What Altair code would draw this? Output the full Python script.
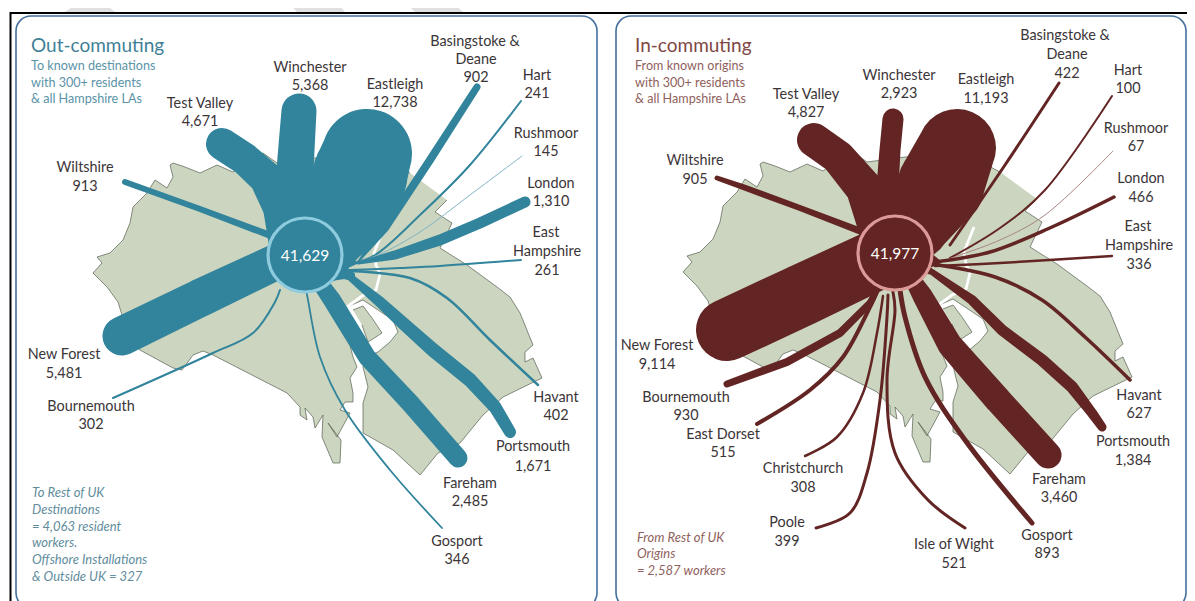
import altair as alt
import pandas as pd

# --- shared map outline (read in left-panel page coordinates)
LAND = [(410,173),(395,165),(365,158),(330,157),(315,158),(300,160),(277,163),(263,153),(250,161),(233,172),(217,165),(200,173),(185,167),(173,163),(170,165),(173,177),(167,188),(155,180),(147,193),(133,207),(130,223),(123,240),(110,253),(97,257),(102,263),(93,273),(107,287),(118,302),(125,325),(140,350),(173,368),(182,370),(193,355),(203,351),(213,355),(287,393),(300,407),(300,415),(307,420),(305,408),(313,417),(315,428),(323,415),(322,437),(333,463),(340,463),(341,440),(328,423),(337,437),(350,413),(340,410),(345,402),(353,402),(353,393),(350,378),(357,367),(353,357),(346,330),(347,307),(363,300),(393,320),(398,332),(390,342),(378,352),(365,358),(363,367),(368,387),(363,403),(363,433),(393,450),(420,475),(438,453),(460,443),(483,415),(503,397),(542,378),(533,358),(525,362),(525,352),(533,345),(520,313),(510,297),(497,287),(467,265),(440,248),(452,223),(435,212),(447,200)]
ISLAND = [(353,310),(363,306),(372,318),(382,333),(368,342),(362,325)]
RIVER = [(384,228),(374,253),(376,265),(380,274),(376,290),(362,296),(347,307)]
SHIFT = 590

# --- flows: (x, y, width)
O_HUB = [(305,258,62),(357,263,2)]
O_HUB2 = [(305,262,50),(352,275,6)]
O_WILTSHIRE = [(125,182,6),(200,209,6),(272,236,7)]
O_TESTVALLEY = [(222,144,32),(245,159,32),(266,178,34),(285,205,46),(300,240,65)]
O_WINCHESTER = [(299,111,35),(297,140,36),(295,170,37),(298,200,40),(300,250,60)]
O_EASTLEIGH = [(367,154,90),(360,175,95),(335,225,80),(318,250,70)]
O_BASINGSTOKE = [(477,87,7),(430,160,8),(385,228,8),(358,262,2)]
O_LONDON = [(525,202,11),(480,223,11),(440,240,11),(395,255,9),(358,263,3)]
O_NEWFOREST = [(122,336,39),(200,298,38),(276,262,36)]
O_PORTSMOUTH = [(510,432,12),(495,407,13),(470,380,14),(433,350,14),(405,325,13),(380,302,11),(350,277,7),(322,265,16)]
O_FAREHAM = [(458,458,19),(410,403,19),(367,357,18),(332,300,18),(318,280,16)]
O_THIN = {
    "Hart": [(521,101),(470,165),(420,215),(375,255),(352,263)],
    "Rushmoor": [(522,156),(470,195),(420,232),(378,255),(352,263)],
    "East Hampshire": [(521,260),(440,266),(400,268),(350,270)],
    "Havant": [(538,385),(490,340),(447,298),(410,278),(350,271)],
    "Gosport": [(442,528),(390,470),(345,410),(320,357),(308,300),(306,290)],
    "Bournemouth": [(113,398),(213,353),(253,333),(275,302),(280,290)],
}
O_THIN_W = {"Hart":2,"Rushmoor":1,"East Hampshire":2,"Havant":2.5,"Gosport":1.8,"Bournemouth":2}

I_HUB = [(895,256,60),(940,262,3)]
I_WILTSHIRE = [(717,178,5),(743,187,6),(800,208,6),(860,231,7)]
I_TESTVALLEY = [(814,140,34),(838,157,34),(864,188,37),(885,230,52)]
I_WINCHESTER = [(893,119,21),(890,150,21),(888,180,22),(890,215,36),(893,250,50)]
I_EASTLEIGH = [(957,148,78),(941,185,87),(915,225,70),(900,250,56)]
I_NEWFOREST = [(727,330,62),(800,296,62),(872,262,60)]
I_PORTSMOUTH = [(1102,427,9),(1092,413,10),(1072,387,12),(1042,360,12),(1002,330,11),(972,300,10),(932,272,6),(910,262,14)]
I_FAREHAM = [(1048,455,27),(998,400,27),(950,345,25),(922,295,20),(908,272,14)]
I_BOURNEMOUTH = [(727,384,7),(787,362,8),(840,333,8),(870,303,7),(878,288,5)]
I_THIN = {
    "Basingstoke": [(1059,83),(1005,165),(950,245)],
    "Hart": [(1112,96),(1045,190),(1000,228),(950,258)],
    "Rushmoor": [(1113,151),(1045,215),(1000,240),(945,260)],
    "London": [(1114,197),(1052,227),(990,252),(935,262)],
    "East Hampshire": [(1112,256),(1000,263),(935,266)],
    "Havant": [(1130,380),(1085,337),(1042,300),(995,277),(938,265)],
    "Gosport": [(1032,523),(965,440),(925,377),(905,317),(900,290)],
    "Isle of Wight": [(965,528),(928,500),(895,453),(887,380),(895,310),(893,292)],
    "Poole": [(816,528),(850,513),(867,473),(880,400),(887,317),(888,295)],
    "Christchurch": [(805,456),(837,437),(863,393),(877,333),(883,296)],
    "East Dorset": [(757,424),(810,390),(843,357),(870,307),(878,290)],
}
I_THIN_W = {"Basingstoke":3,"Hart":2,"Rushmoor":1,"London":3.5,"East Hampshire":2.5,"Havant":3.5,"Gosport":5,"Isle of Wight":3,"Poole":3,"Christchurch":2.5,"East Dorset":4}

# --- labels: (x, y, text)
O_LABELS = [(200,103,"Test Valley"),(200,121,"4,671"),(310,67,"Winchester"),(310,85,"5,368"),(395,84,"Eastleigh"),(395,102,"12,738"),
 (475,41,"Basingstoke &"),(476,59,"Deane"),(476,77,"902"),(537,75,"Hart"),(537,93,"241"),(546,133,"Rushmoor"),(546,151,"145"),
 (551,183,"London"),(551,201,"1,310"),(546,232,"East"),(547,251,"Hampshire"),(547,270,"261"),(85,167,"Wiltshire"),(85,186,"913"),
 (64,354,"New Forest"),(64,373,"5,481"),(91,406,"Bournemouth"),(91,424,"302"),(556,397,"Havant"),(556,415,"402"),
 (533,446,"Portsmouth"),(533,466,"1,671"),(470,483,"Fareham"),(470,501,"2,485"),(457,541,"Gosport"),(457,559,"346")]
I_LABELS = [(806,94,"Test Valley"),(806,112,"4,827"),(899,75,"Winchester"),(899,93,"2,923"),(986,79,"Eastleigh"),(986,98,"11,193"),
 (1065,35,"Basingstoke &"),(1067,54,"Deane"),(1067,73,"422"),(1128,70,"Hart"),(1128,88,"100"),(1136,128,"Rushmoor"),(1136,146,"67"),
 (1141,178,"London"),(1141,197,"466"),(1138,226,"East"),(1139,245,"Hampshire"),(1139,264,"336"),(695,160,"Wiltshire"),(695,179,"905"),
 (657,345,"New Forest"),(657,364,"9,114"),(686,397,"Bournemouth"),(686,415,"930"),(723,434,"East Dorset"),(723,452,"515"),
 (803,468,"Christchurch"),(803,487,"308"),(787,522,"Poole"),(787,541,"399"),(954,544,"Isle of Wight"),(954,563,"521"),
 (1047,535,"Gosport"),(1047,553,"893"),(1059,479,"Fareham"),(1059,497,"3,460"),(1133,441,"Portsmouth"),(1133,460,"1,384"),
 (1139,395,"Havant"),(1139,413,"627")]
TITLES = [(31,45,"Out-commuting","#3f7f96"),(635,45,"In-commuting","#7f4744")]
SUBS = [(31,65,"To known destinations","#5a93a8"),(31,82,"with 300+ residents","#5a93a8"),(31,98,"& all Hampshire LAs","#5a93a8"),
        (635,65,"From known origins","#8f5f5d"),(635,82,"with 300+ residents","#8f5f5d"),(635,98,"& all Hampshire LAs","#8f5f5d")]
NOTES = [(32,492,"To Rest of UK","#5f8d9d"),(32,509,"Destinations","#5f8d9d"),(32,526,"= 4,063 resident","#5f8d9d"),(32,542,"workers.","#5f8d9d"),
         (32,559,"Offshore Installations","#5f8d9d"),(32,576,"& Outside UK =  327","#5f8d9d"),
         (637,537,"From Rest of UK","#8f5f5d"),(637,553,"Origins","#8f5f5d"),(637,570,"= 2,587  workers","#8f5f5d")]
CENTRES = [(305,255,"41,629","#31849b","#8ecbde"),(895,253,"41,977","#632523","#dc9a98")]
PANELS = [(16,597,16,608),(616,1186,16,608)]
STRIPES = {"a":[(65,12),(82,0),(100,0),(115,12)],"b":[(286,0),(335,0),(345,12),(297,12)],"c":[(403,0),(450,0),(463,12),(415,12)]}

TEAL, MAROON = "#31849b", "#632523"
XS = alt.Scale(domain=[8,1187], nice=False, zero=False)
YS = alt.Scale(domain=[601,8], nice=False, zero=False)
X = alt.X("x:Q", scale=XS, axis=None)
Y = alt.Y("y:Q", scale=YS, axis=None)

def poly_df(pts, pid, dx=0, dy=0):
    return pd.DataFrame([{"x":p[0]+dx,"y":p[1]+dy,"i":i,"id":pid} for i,p in enumerate(pts)])

def poly(pts_sets, fill, stroke, sw):
    df = pd.concat(pts_sets)
    return alt.Chart(df).mark_line(fill=fill, stroke=stroke, strokeWidth=sw).encode(
        x=X, y=Y, order=alt.Order("i:Q"), detail="id:N")

layers = []
layers.append(poly([poly_df(v,k) for k,v in STRIPES.items()], "#e0e0e0", "#e0e0e0", 0))

frame = pd.DataFrame({"x":[10.5,10.5,1187],"y":[601,13,13],"i":[0,1,2]})
layers.append(alt.Chart(frame).mark_line(color="#000000", strokeWidth=2).encode(x=X, y=Y, order=alt.Order("i:Q")))

pan = pd.DataFrame(PANELS, columns=["x","x2","y","y2"])
layers.append(alt.Chart(pan).mark_rect(fill="#ffffff", stroke="#44709f", strokeWidth=1.6, cornerRadius=15).encode(
    x=X, x2="x2:Q", y=Y, y2="y2:Q"))

layers.append(poly([poly_df(LAND,"l"), poly_df(ISLAND,"li"),
                    poly_df(LAND,"r",SHIFT,-1), poly_df(ISLAND,"ri",SHIFT,-1)], "#cbd5bf", "#555f50", 0.7))
riv = pd.concat([poly_df(RIVER,"l"), poly_df(RIVER,"r",SHIFT,-1)])
layers.append(alt.Chart(riv).mark_line(color="#ffffff", strokeWidth=2.8).encode(x=X, y=Y, order=alt.Order("i:Q"), detail="id:N"))

# thin constant-width flows, smoothed by the line mark
rows = []
for tag, d, w, col in (("o",O_THIN,O_THIN_W,TEAL),("i",I_THIN,I_THIN_W,MAROON)):
    for k, pts in d.items():
        c = col
        if k == "Rushmoor":
            c = "#7fb3c4" if col == TEAL else "#a88583"
        for i, p in enumerate(pts):
            rows.append({"x":p[0],"y":p[1],"i":i,"id":tag+k,"w":w[k],"c":c})
layers.append(alt.Chart(pd.DataFrame(rows)).mark_line(interpolate="catmull-rom", strokeCap="round").encode(
    x=X, y=Y, order=alt.Order("i:Q"), detail="id:N",
    color=alt.Color("c:N", scale=None), strokeWidth=alt.StrokeWidth("w:Q", scale=None)))

# tapered flows
rows = []
for name, pts, col in (("a",O_WILTSHIRE,TEAL),("b",O_TESTVALLEY,TEAL),("c",O_WINCHESTER,TEAL),("d",O_EASTLEIGH,TEAL),
                       ("e",O_BASINGSTOKE,TEAL),("f",O_LONDON,TEAL),("g",O_NEWFOREST,TEAL),("h",O_PORTSMOUTH,TEAL),("j",O_FAREHAM,TEAL),
                       ("t",O_HUB,TEAL),("u",O_HUB2,TEAL),("v",I_HUB,MAROON),
                       ("k",I_WILTSHIRE,MAROON),("l",I_TESTVALLEY,MAROON),("m",I_WINCHESTER,MAROON),("n",I_EASTLEIGH,MAROON),
                       ("p",I_NEWFOREST,MAROON),("q",I_PORTSMOUTH,MAROON),("r",I_FAREHAM,MAROON),("s",I_BOURNEMOUTH,MAROON)):
    for i, p in enumerate(pts):
        rows.append({"x":p[0],"y":p[1],"i":i,"id":name,"w":p[2],"c":col})
layers.append(alt.Chart(pd.DataFrame(rows)).mark_trail().encode(
    x=X, y=Y, order=alt.Order("i:Q"), detail="id:N",
    color=alt.Color("c:N", scale=None), size=alt.Size("w:Q", scale=None)))

cent = pd.DataFrame(CENTRES, columns=["x","y","t","c","s"])
layers.append(alt.Chart(cent).mark_point(filled=True, size=5476, strokeWidth=3.2, opacity=1).encode(
    x=X, y=Y, fill=alt.Fill("c:N", scale=None), stroke=alt.Stroke("s:N", scale=None)))
layers.append(alt.Chart(cent).mark_text(font="Lato", fontSize=15.5, color="#ffffff", align="center", baseline="middle", dy=1).encode(
    x=X, y=Y, text="t:N"))

labs = pd.DataFrame(O_LABELS+I_LABELS, columns=["x","y","t"])
layers.append(alt.Chart(labs).mark_text(font="Lato", fontSize=14.4, color="#3b3538", align="center", baseline="middle", dy=1).encode(
    x=X, y=Y, text="t:N"))

def left_text(rows, size, style="normal"):
    df = pd.DataFrame(rows, columns=["x","y","t","c"])
    return alt.Chart(df).mark_text(font="Lato", fontSize=size, fontStyle=style, align="left", baseline="middle", dy=0.5).encode(
        x=X, y=Y, text="t:N", color=alt.Color("c:N", scale=None))
layers.append(left_text(TITLES, 19))
layers.append(left_text(SUBS, 12.6))
layers.append(left_text(NOTES, 13, "italic"))

chart = alt.layer(*layers).properties(
    width=1179, height=593, padding=0, autosize=alt.AutoSizeParams(type="none"), background="#ffffff"
).configure_view(stroke=None)
chart.save("out.html", embed_options={"renderer": "svg", "actions": False})
